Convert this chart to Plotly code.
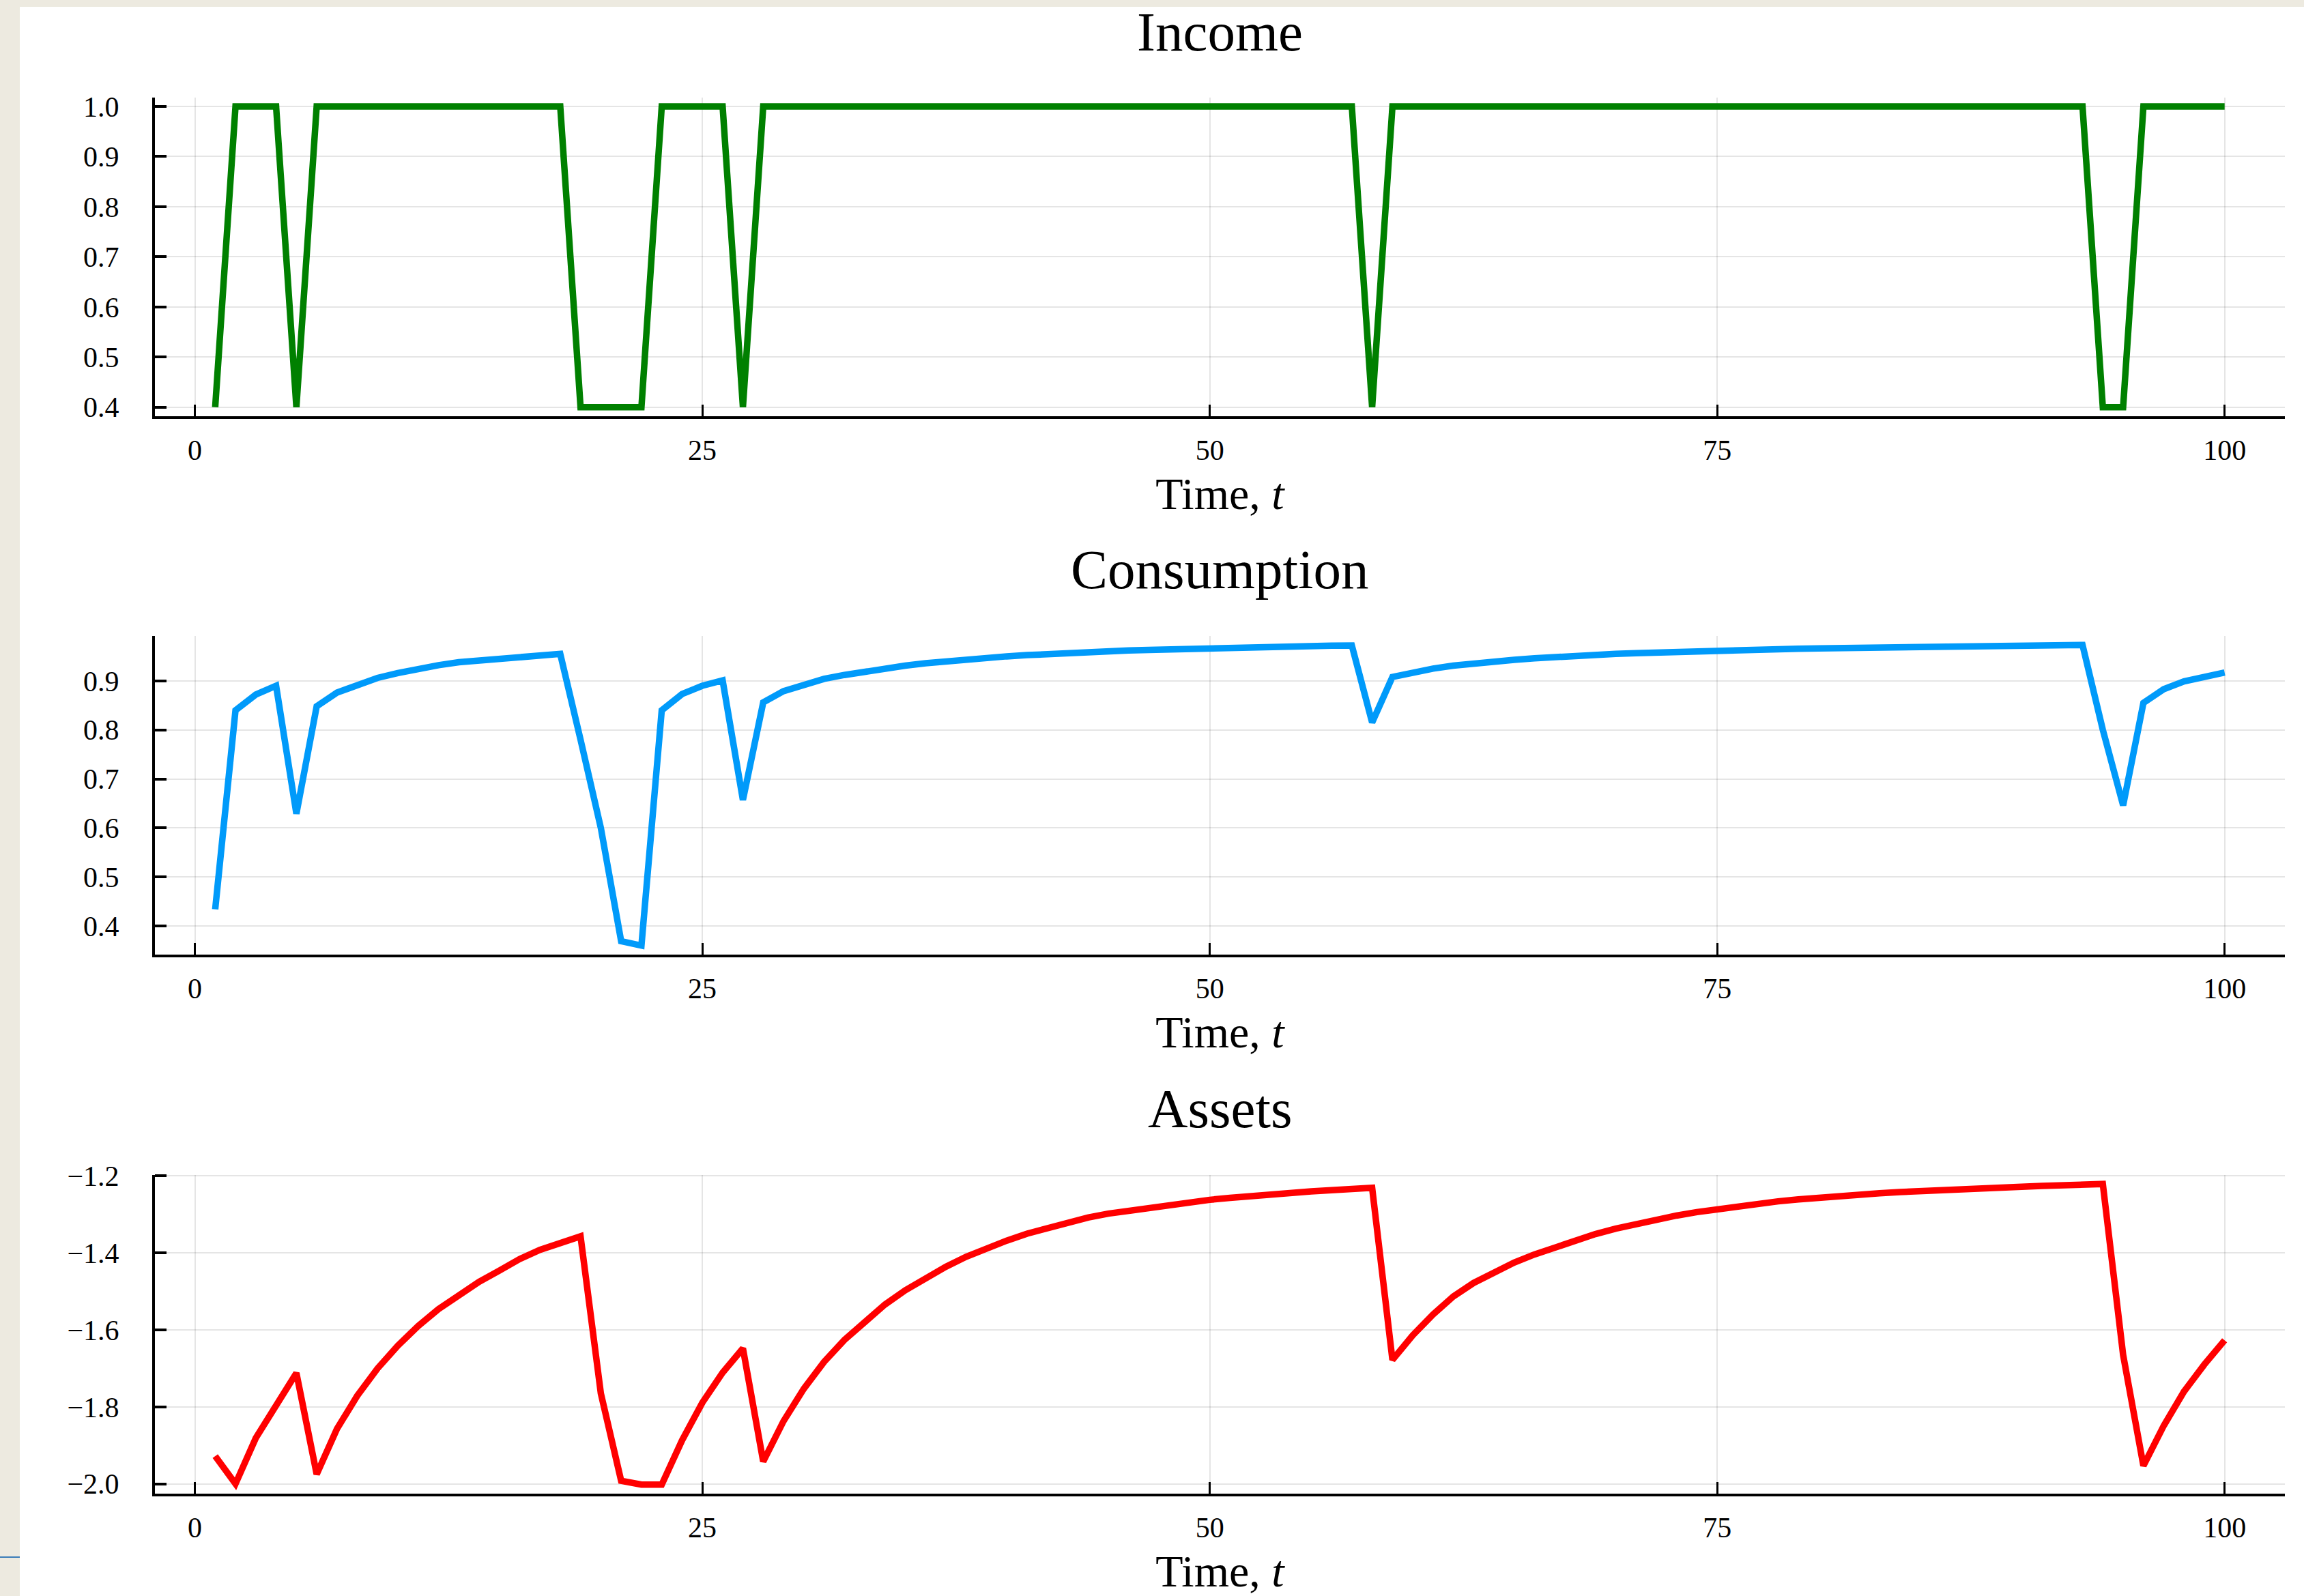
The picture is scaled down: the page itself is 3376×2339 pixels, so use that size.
import plotly.graph_objects as go

# ---------------- data ----------------
t = list(range(1, 101))

income = [
    0.4, 1.0, 1.0, 1.0, 0.4, 1.0, 1.0, 1.0, 1.0, 1.0,
    1.0, 1.0, 1.0, 1.0, 1.0, 1.0, 1.0, 1.0, 0.4, 0.4,
    0.4, 0.4, 1.0, 1.0, 1.0, 1.0, 0.4, 1.0, 1.0, 1.0,
    1.0, 1.0, 1.0, 1.0, 1.0, 1.0, 1.0, 1.0, 1.0, 1.0,
    1.0, 1.0, 1.0, 1.0, 1.0, 1.0, 1.0, 1.0, 1.0, 1.0,
    1.0, 1.0, 1.0, 1.0, 1.0, 1.0, 1.0, 0.4, 1.0, 1.0,
    1.0, 1.0, 1.0, 1.0, 1.0, 1.0, 1.0, 1.0, 1.0, 1.0,
    1.0, 1.0, 1.0, 1.0, 1.0, 1.0, 1.0, 1.0, 1.0, 1.0,
    1.0, 1.0, 1.0, 1.0, 1.0, 1.0, 1.0, 1.0, 1.0, 1.0,
    1.0, 1.0, 1.0, 0.4, 0.4, 1.0, 1.0, 1.0, 1.0, 1.0,
]

consumption = [
    0.434, 0.840, 0.872, 0.890, 0.629, 0.848, 0.876, 0.892, 0.906, 0.916,
    0.925, 0.932, 0.938, 0.942, 0.946, 0.950, 0.952, 0.955, 0.780, 0.600,
    0.369, 0.360, 0.840, 0.873, 0.890, 0.901, 0.657, 0.856, 0.879, 0.893,
    0.904, 0.912, 0.919, 0.926, 0.931, 0.936, 0.940, 0.944, 0.947, 0.950,
    0.9525, 0.955, 0.957, 0.9588, 0.9604, 0.9619, 0.9632, 0.9645, 0.9657, 0.9668,
    0.9678, 0.9687, 0.9695, 0.9703, 0.971, 0.9716, 0.9722, 0.815, 0.908, 0.918,
    0.925, 0.931, 0.936, 0.940, 0.943, 0.946, 0.949, 0.951, 0.953, 0.955,
    0.9565, 0.958, 0.9595, 0.9607, 0.9618, 0.9628, 0.9638, 0.9647, 0.9655, 0.9663,
    0.967, 0.9677, 0.9684, 0.969, 0.9696, 0.9701, 0.9706, 0.9711, 0.9716, 0.972,
    0.9724, 0.9728, 0.9732, 0.800, 0.646, 0.855, 0.883, 0.899, 0.908, 0.917,
]

assets = [
    -1.928, -2.000, -1.881, -1.795, -1.712, -1.975, -1.857, -1.771, -1.700, -1.641,
    -1.590, -1.546, -1.508, -1.475, -1.446, -1.416, -1.392, -1.373, -1.357, -1.765,
    -1.992, -2.002, -2.002, -1.887, -1.789, -1.711, -1.648, -1.942, -1.837, -1.753,
    -1.683, -1.626, -1.578, -1.534, -1.497, -1.465, -1.436, -1.410, -1.388, -1.368,
    -1.350, -1.335, -1.321, -1.308, -1.298, -1.290, -1.282, -1.275, -1.268, -1.262,
    -1.257, -1.252, -1.247, -1.243, -1.240, -1.237, -1.234, -1.231, -1.678, -1.614,
    -1.560, -1.513, -1.478, -1.450, -1.425, -1.404, -1.386, -1.368, -1.351, -1.337,
    -1.325, -1.314, -1.303, -1.294, -1.286, -1.279, -1.272, -1.266, -1.261, -1.256,
    -1.252, -1.248, -1.245, -1.242, -1.239, -1.237, -1.234, -1.232, -1.230, -1.228,
    -1.226, -1.224, -1.222, -1.221, -1.665, -1.953, -1.849, -1.760, -1.690, -1.627,
]

titles = ["Income", "Consumption", "Assets"]
colors = ["#008000", "#009AFA", "#FF0000"]
series = [income, consumption, assets]
ytick_vals = [
    [0.4, 0.5, 0.6, 0.7, 0.8, 0.9, 1.0],
    [0.4, 0.5, 0.6, 0.7, 0.8, 0.9],
    [-2.0, -1.8, -1.6, -1.4, -1.2],
]
xtick_vals = [0, 25, 50, 75, 100]
xlabel = "Time, <i>t</i>"

# ---------------- layout geometry ----------------
W, H = 3376, 2339
x_dom = [227 / W, 3348 / W]
panels_px = [(142.7, 610), (932, 1399), (1722, 2189)]  # top, bottom in px
title_px = [47, 835, 1625]

FONT = "Liberation Serif"


def widen(vals, f=0.03):
    lo, hi = min(vals), max(vals)
    s = hi - lo
    return [lo - f * s, hi + f * s]


fig = go.Figure()
for i, (name, col, ys) in enumerate(zip(titles, colors, series)):
    k = "" if i == 0 else str(i + 1)
    fig.add_trace(go.Scatter(
        x=t, y=ys, mode="lines", name=name,
        line=dict(color=col, width=9.5),
        xaxis="x" + k, yaxis="y" + k, showlegend=False,
    ))
    top, bot = panels_px[i]
    ydom = [1 - bot / H, 1 - top / H]
    axis_common = dict(
        showline=True, linecolor="black", linewidth=4, mirror=False,
        ticks="inside", tickcolor="black",
        showgrid=True, gridcolor="rgba(0,0,0,0.1)", gridwidth=2,
        zeroline=False, automargin=False,
        tickfont=dict(family=FONT, size=42, color="black"),
    )
    fig.layout["xaxis" + k] = dict(
        axis_common, domain=x_dom, anchor="y" + k,
        range=widen(t), tickvals=xtick_vals, ticklen=17, tickwidth=3,
        ticklabelstandoff=10,
        title=dict(text=xlabel, font=dict(family=FONT, size=66, color="black"),
                   standoff=18),
    )
    fig.layout["yaxis" + k] = dict(
        axis_common, domain=ydom, anchor="x" + k,
        range=widen(ys), tickvals=ytick_vals[i], tickformat=".1f",
        ticklen=17, tickwidth=3.5, ticklabelstandoff=40,
    )
    fig.add_annotation(
        text=name, xref="paper", yref="paper",
        x=(x_dom[0] + x_dom[1]) / 2, y=1 - title_px[i] / H,
        xanchor="center", yanchor="middle", showarrow=False,
        font=dict(family=FONT, size=81, color="black"),
    )

# beige page strips around the white chart canvas
beige = "#EDEAE0"
fig.add_shape(type="rect", xref="paper", yref="paper", x0=0, x1=29 / W, y0=0, y1=1,
              fillcolor=beige, line=dict(width=0), layer="below")
fig.add_shape(type="rect", xref="paper", yref="paper", x0=0, x1=1, y0=1 - 10 / H, y1=1,
              fillcolor=beige, line=dict(width=0), layer="below")
fig.add_shape(type="line", xref="paper", yref="paper", x0=0, x1=29 / W,
              y0=1 - 2282 / H, y1=1 - 2282 / H,
              line=dict(color="#3A7DB8", width=2), layer="below")

fig.update_layout(
    width=W, height=H,
    margin=dict(l=0, r=0, t=0, b=0),
    paper_bgcolor="white", plot_bgcolor="white",
    font=dict(family=FONT, color="black"),
)

fig.write_html("out.html")
